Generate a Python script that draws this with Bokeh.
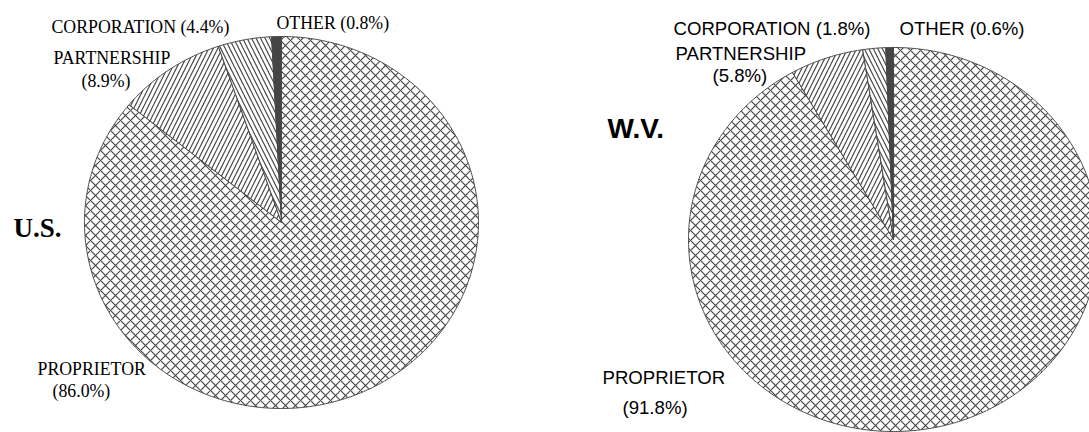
import numpy as np
from bokeh.plotting import figure
from bokeh.models import ColumnDataSource, Range1d
from bokeh.core.properties import value
from bokeh.embed import file_html
from bokeh.resources import INLINE

# ---------------- data ----------------
categories = ["PROPRIETOR", "PARTNERSHIP", "CORPORATION", "OTHER"]
us_share = [86.0, 8.9, 4.4, 0.8]
wv_share = [91.8, 5.8, 1.8, 0.6]
region_titles = ["U.S.", "W.V."]

# ---------------- styles / layout ----------------
hatch_styles = ["x", "/", "\\", " "]
hatch_scales = [10, 9, 9, 9]
fill_styles = ["white", "white", "white", "#454545"]
LINE = "#484848"

US_PIE = dict(cx=281, cy=222, rx=197, ry=186)
WV_PIE = dict(cx=893, cy=239, rx=205, ry=192)

# label anchor positions (left edge, vertical middle) per category:
# (first-line pos, second-line pos or None)
US_LABEL_POS = {
    "PROPRIETOR": ((37, 368), (52, 390)),
    "PARTNERSHIP": ((53, 57), (81, 80)),
    "CORPORATION": ((51, 26), None),
    "OTHER": ((276, 22), None),
}
WV_LABEL_POS = {
    "PROPRIETOR": ((602, 377), (622, 407)),
    "PARTNERSHIP": ((675, 53), (712, 75)),
    "CORPORATION": ((673, 28), None),
    "OTHER": ((899, 28), None),
}
US_TITLE_POS = (13, 227)
WV_TITLE_POS = (607, 128)

W, H = 1089, 432
p = figure(width=W, height=H, output_backend="svg", toolbar_location=None,
           x_range=Range1d(0, W), y_range=Range1d(H, 0),
           min_border=0, outline_line_color=None)
p.axis.visible = False
p.grid.visible = False
p.background_fill_color = "white"


def slices(shares, cx, cy, rx, ry):
    total = float(sum(shares))
    xs, ys = [], []
    start = 0.0
    for s in shares:
        a0 = start / total * 2 * np.pi
        a1 = (start + s) / total * 2 * np.pi
        n = max(3, int(np.ceil((a1 - a0) / (2 * np.pi) * 720)) + 1)
        t = np.linspace(a0, a1, n)
        xs.append([cx] + list(cx + rx * np.sin(t)))
        ys.append([cy] + list(cy - ry * np.cos(t)))
        start += s
    return xs, ys


def draw_pie(shares, geom):
    xs, ys = slices(shares, **geom)
    src = ColumnDataSource(dict(xs=xs, ys=ys, fill=fill_styles, hatch=hatch_styles,
                                hs=hatch_scales, cat=categories))
    p.patches("xs", "ys", source=src, fill_color="fill", line_color=LINE,
              line_width=1, hatch_pattern="hatch", hatch_color=LINE,
              hatch_scale="hs", hatch_weight=1.2)


def draw_labels(shares, pos, font, size):
    tx, ty, tt = [], [], []
    for cat, s in zip(categories, shares):
        first, second = pos[cat]
        pct = f"({s:.1f}%)"
        if second is None:
            tt.append(f"{cat} {pct}"); tx.append(first[0]); ty.append(first[1])
        else:
            tt.append(cat); tx.append(first[0]); ty.append(first[1])
            tt.append(pct); tx.append(second[0]); ty.append(second[1])
    p.text(x=tx, y=ty, text=tt, text_font=value(font), text_font_size=size,
           text_align="left", text_baseline="middle", text_color="black")


draw_pie(us_share, US_PIE)
draw_pie(wv_share, WV_PIE)
draw_labels(us_share, US_LABEL_POS, "Liberation Serif", "17.8px")
draw_labels(wv_share, WV_LABEL_POS, "Liberation Sans", "18.6px")

p.text(x=[US_TITLE_POS[0]], y=[US_TITLE_POS[1]], text=[region_titles[0]],
       text_font=value("Liberation Serif"), text_font_size="27px",
       text_font_style="bold", text_align="left", text_baseline="middle")
p.text(x=[WV_TITLE_POS[0]], y=[WV_TITLE_POS[1]], text=[region_titles[1]],
       text_font=value("Liberation Sans"), text_font_size="28px",
       text_font_style="bold", text_align="left", text_baseline="middle")

open("out.html", "w").write(file_html(p, INLINE))
